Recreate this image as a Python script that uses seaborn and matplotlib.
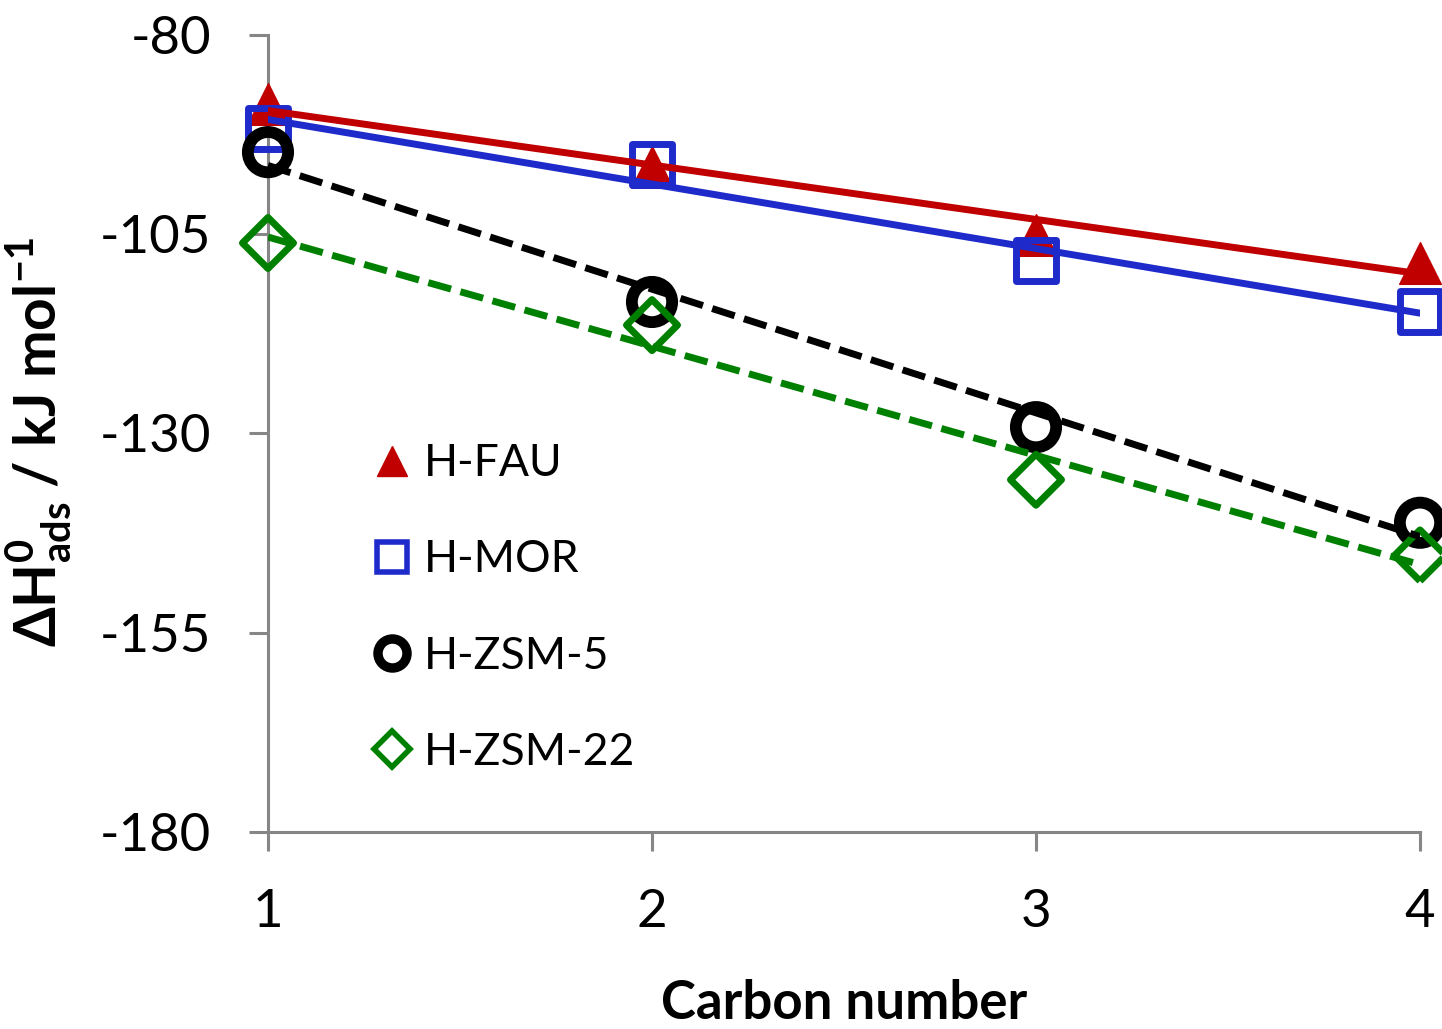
import numpy as np
import pandas as pd
import matplotlib
matplotlib.use('Agg')
import matplotlib.pyplot as plt
from matplotlib.lines import Line2D
import seaborn as sns

# carbon number and adsorption enthalpies (kJ/mol)
carbon = [1, 2, 3, 4]
h_fau = [-88.7, -96.5, -105.1, -108.6]
h_mor = [-91.7, -96.3, -108.3, -114.7]
h_zsm5 = [-94.7, -113.5, -129.2, -141.2]
h_zsm22 = [-106.1, -116.4, -135.8, -145.3]

names = ['H-FAU', 'H-MOR', 'H-ZSM-5', 'H-ZSM-22']
colors = ['#C00000', '#1F2ACB', '#000000', '#008000']

df = pd.DataFrame({'carbon': carbon * 4,
                   'dH': h_fau + h_mor + h_zsm5 + h_zsm22,
                   'zeolite': np.repeat(names, len(carbon))})

sns.set_style('white')
plt.rcParams['font.family'] = ['Lato', 'DejaVu Sans']
plt.rcParams['mathtext.fontset'] = 'custom'
plt.rcParams['mathtext.rm'] = 'Lato'
plt.rcParams['mathtext.bf'] = 'Lato:bold'
plt.rcParams['axes.unicode_minus'] = False
plt.rcParams['text.color'] = 'black'
plt.rcParams['axes.labelcolor'] = 'black'

fig = plt.figure(figsize=(14.42, 10.29), dpi=100)
ax = fig.add_axes([0.18585, 0.19145, 0.79889, 0.77454])

# marker style per series: (marker, size in pt, edge width, filled, line style)
styles = {
    'H-FAU': ('^', 30, 1.0, True, '-'),
    'H-MOR': ('s', 29.5, 5.0, False, '-'),
    'H-ZSM-5': ('o', 29, 8.5, False, (0, (3.4, 1.4))),
    'H-ZSM-22': ('D', 26, 5.0, False, (0, (3.4, 1.4))),
}

for name, col in zip(names, colors):
    mk, ms, mew, filled, ls = styles[name]
    sub = df[df['zeolite'] == name]
    sns.regplot(data=sub, x='carbon', y='dH', ax=ax, ci=None, truncate=True,
                marker=mk,
                scatter_kws={'s': ms ** 2, 'facecolors': col if filled else 'none',
                             'edgecolors': col, 'linewidths': mew, 'alpha': 1,
                             'clip_on': False, 'zorder': 3},
                line_kws={'color': col, 'lw': 5, 'ls': ls, 'zorder': 4})

ax.set_xlim(1, 4)
ax.set_ylim(-180, -80)
ax.set_xticks([1, 2, 3, 4])
ax.set_yticks([-80, -105, -130, -155, -180])

for side in ['top', 'right']:
    ax.spines[side].set_visible(False)
for side in ['left', 'bottom']:
    ax.spines[side].set_color('#868686')
    ax.spines[side].set_linewidth(2.2)
ax.tick_params(axis='both', direction='out', length=14, width=2.2,
               color='#868686', labelsize=38, pad=27, labelcolor='black')
ax.tick_params(axis='x', bottom=True)
ax.tick_params(axis='y', left=True)

ax.set_xlabel('Carbon number', fontsize=38, fontweight='bold')
ax.set_ylabel(r'$\mathbf{\Delta H^0_{ads}}$ / kJ mol$^{\mathbf{-1}}$',
              fontsize=41, fontweight='bold')
ax.xaxis.set_label_coords(0.5, -0.185)
ax.yaxis.set_label_coords(-0.168, 0.49)

# legend shows markers only
handles = []
for name, col in zip(names, colors):
    mk, ms, mew, filled, ls = styles[name]
    handles.append(Line2D([], [], ls='none', marker=mk, color=col,
                          markersize=ms * 0.72,
                          markerfacecolor=col if filled else 'none',
                          markeredgewidth=mew * 0.8 if not filled else 1.0))
ax.legend(handles, names, loc='upper left', bbox_to_anchor=(0.081, 0.51),
          frameon=False, fontsize=32, handlelength=0.6, handletextpad=0.4,
          labelspacing=1.24, borderaxespad=0)

plt.savefig('out.png', dpi=100)
plt.close()
